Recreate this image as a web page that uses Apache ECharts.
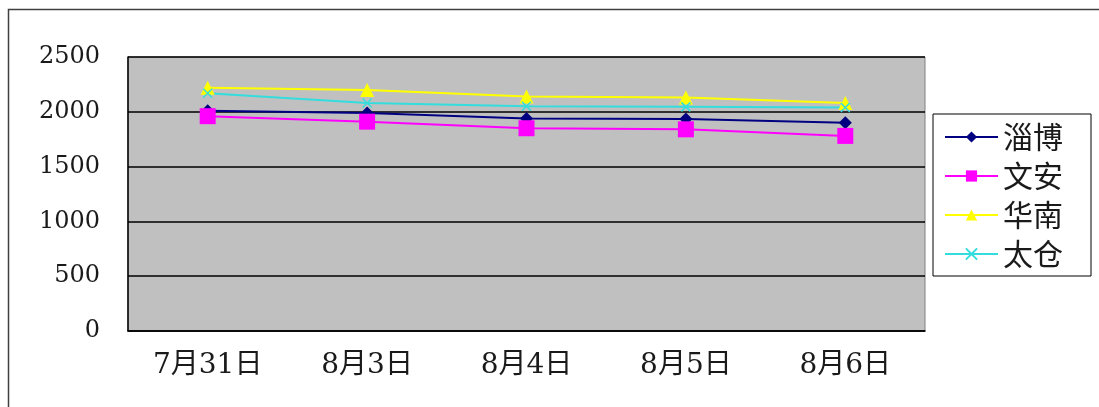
<!DOCTYPE html>
<html>
<head>
<meta charset="utf-8">
<script src="https://cdn.jsdelivr.net/npm/echarts@6/dist/echarts.min.js"></script>
<style>
  html, body { margin: 0; padding: 0; background: #ffffff; }
  #chart { width: 1099px; height: 407px; }
</style>
</head>
<body>
<div id="chart"></div>
<script>
// Daily prices per plant
const categories = ['7月31日', '8月3日', '8月4日', '8月5日', '8月6日'];
const ziboValues = [2010, 1990, 1940, 1935, 1900];
const wenanValues = [1960, 1910, 1850, 1840, 1780];
const huananValues = [2220, 2200, 2140, 2130, 2080];
const taicangValues = [2170, 2080, 2050, 2045, 2040];
const yTicks = { min: 0, max: 2500, interval: 500 };

const serifFont = '"DejaVu Serif", "Noto Sans CJK SC", serif';
const crossPath = 'path://M0,0L10,10M0,10L10,0';

function lineSeries(name, data, color, symbol, size, extraItem) {
  return {
    name: name,
    type: 'line',
    data: data,
    symbol: symbol,
    symbolSize: size,
    showAllSymbol: true,
    lineStyle: { color: color, width: 2 },
    itemStyle: Object.assign({ color: color }, extraItem || {}),
    emphasis: { disabled: true },
    animation: false
  };
}

const chart = echarts.init(document.getElementById('chart'));
chart.setOption({
  backgroundColor: '#ffffff',
  animation: false,
  graphic: [{
    type: 'rect',
    shape: { x: 8.5, y: 9.5, width: 1100, height: 410 },
    style: { fill: 'none', stroke: '#404040', lineWidth: 1.5 },
    silent: true
  }],
  grid: {
    left: 128, top: 57, right: 174, bottom: 76,
    show: true,
    backgroundColor: '#c0c0c0',
    borderColor: '#808080',
    borderWidth: 1
  },
  legend: {
    orient: 'vertical',
    left: 933, top: 114,
    padding: [8, 28, 7, 11],
    borderColor: '#000000',
    borderWidth: 1,
    backgroundColor: '#ffffff',
    itemWidth: 53,
    itemHeight: 14,
    itemGap: 9,
    textStyle: {
      fontFamily: '"Noto Sans CJK SC", sans-serif',
      fontSize: 30,
      lineHeight: 30,
      color: '#1a1a1a'
    },
    data: ['淄博', '文安', '华南', '太仓']
  },
  xAxis: {
    type: 'category',
    data: categories,
    boundaryGap: true,
    axisLine: { lineStyle: { color: '#000000', width: 1.5 } },
    axisTick: { inside: true, length: 10, lineStyle: { color: '#000000' } },
    axisLabel: {
      margin: 21,
      fontFamily: serifFont,
      fontSize: 28,
      color: '#1a1a1a'
    },
    splitLine: { show: false }
  },
  yAxis: {
    type: 'value',
    min: yTicks.min,
    max: yTicks.max,
    interval: yTicks.interval,
    axisLine: { show: true, lineStyle: { color: '#000000', width: 1.5 } },
    axisTick: { show: false },
    axisLabel: {
      margin: 28,
      fontFamily: serifFont,
      fontSize: 24,
      color: '#1a1a1a',
      formatter: function (v) { return String(v); }
    },
    splitLine: { show: true, lineStyle: { color: '#000000', width: 1.5 } }
  },
  series: [
    lineSeries('淄博', ziboValues, '#000080', 'diamond', 13),
    lineSeries('文安', wenanValues, '#ff00ff', 'rect', 16),
    lineSeries('华南', huananValues, '#ffff00', 'triangle', 14),
    lineSeries('太仓', taicangValues, '#33dddd', crossPath, 9,
      { borderColor: '#33dddd', borderWidth: 1.5 })
  ]
});
</script>
</body>
</html>
